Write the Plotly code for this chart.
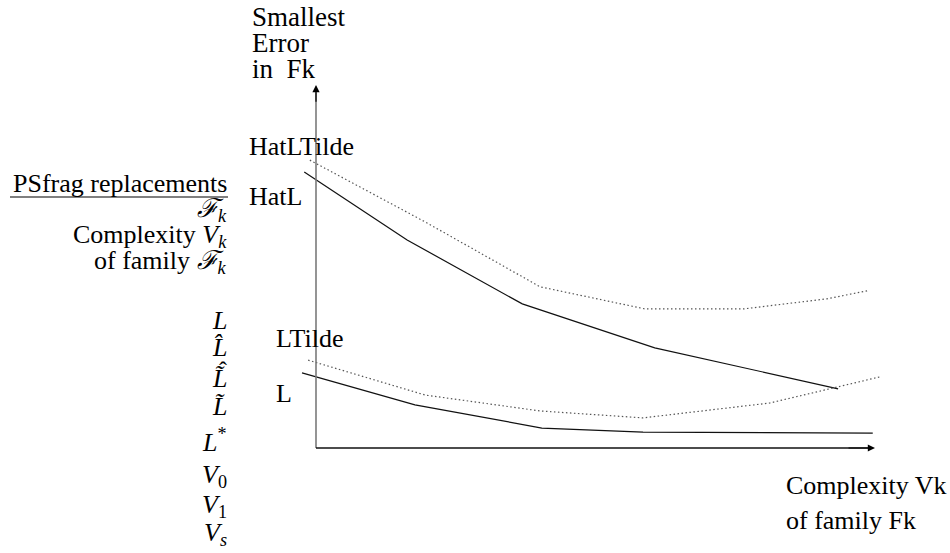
import plotly.graph_objects as go

# ---- data (conceptual units: complexity on x, error on y) ----
hatl_x = [-0.21, 1.63, 3.69, 6.06, 9.34]
hatl_y = [7.60, 5.73, 3.97, 2.76, 1.63]

hatltilde_x = [-0.11, 1.95, 4.01, 5.89, 7.64, 9.14, 9.86]
hatltilde_y = [7.93, 6.23, 4.44, 3.83, 3.83, 4.11, 4.33]

ltilde_x = [-0.14, 1.95, 4.01, 5.85, 8.12, 10.09]
ltilde_y = [2.42, 1.46, 1.02, 0.83, 1.24, 1.96]

l_x = [-0.25, 1.77, 4.04, 5.85, 9.96]
l_y = [2.07, 1.19, 0.55, 0.44, 0.41]

curve_labels = ["HatLTilde", "HatL", "LTilde", "L"]
axis_y_label = ["Smallest", "Error", "in  Fk"]
axis_x_label = ["Complexity Vk", "of family Fk"]
psfrag_items = [
    "<i>ℱ<sub>k</sub></i>",
    "Complexity <i>V<sub>k</sub></i>",
    "of family <i>ℱ<sub>k</sub></i>",
    "<i>L</i>",
    "<i>L\u0302</i>",
    "<i>L\u0303</i>",
    "<i>L\u0303</i>",
    "<i>L</i><sup>*</sup>",
    "<i>V</i><sub>0</sub>",
    "<i>V</i><sub>1</sub>",
    "<i>V<sub>s</sub></i>",
]

W, H = 950, 553
X_LEN, Y_LEN = 10.0, 10.0
ORIG_PX, ORIG_PY = 316, 448
END_PX, END_PY = 875, 85
sx = (END_PX - ORIG_PX) / X_LEN
sy = (ORIG_PY - END_PY) / Y_LEN
xr = [-ORIG_PX / sx, (W - ORIG_PX) / sx]
yr = [-(H - ORIG_PY) / sy, ORIG_PY / sy]

SERIF = "Liberation Serif, Times New Roman, serif"
FS = 26
DOT = "1.5px,2.5px"

fig = go.Figure()
fig.add_trace(go.Scatter(x=hatltilde_x, y=hatltilde_y, mode="lines",
                         line=dict(color="#555555", width=1.2, dash=DOT), hoverinfo="skip"))
fig.add_trace(go.Scatter(x=hatl_x, y=hatl_y, mode="lines",
                         line=dict(color="#111111", width=1.2), hoverinfo="skip"))
fig.add_trace(go.Scatter(x=ltilde_x, y=ltilde_y, mode="lines",
                         line=dict(color="#555555", width=1.2, dash=DOT), hoverinfo="skip"))
fig.add_trace(go.Scatter(x=l_x, y=l_y, mode="lines",
                         line=dict(color="#111111", width=1.2), hoverinfo="skip"))


def px(xp):
    return xp / W


def py(yp):
    return 1 - yp / H


shapes = [
    dict(type="line", xref="x", yref="y", x0=0, y0=0, x1=0, y1=Y_LEN * 0.98,
         line=dict(color="#7a7a7a", width=1.6)),
    dict(type="line", xref="x", yref="y", x0=0, y0=0, x1=X_LEN * 0.99, y1=0,
         line=dict(color="#111111", width=1.4)),
    dict(type="line", xref="paper", yref="paper", x0=px(10), y0=py(197), x1=px(228), y1=py(197),
         line=dict(color="#555555", width=1.6)),
]

ann = []
ann.append(dict(x=0, y=Y_LEN, ax=0, ay=Y_LEN * 0.95, xref="x", yref="y", axref="x", ayref="y",
                showarrow=True, arrowhead=2, arrowsize=1.2, arrowwidth=1.2, arrowcolor="#000", text=""))
ann.append(dict(x=X_LEN, y=0, ax=X_LEN * 0.95, ay=0, xref="x", yref="y", axref="x", ayref="y",
                showarrow=True, arrowhead=2, arrowsize=1.2, arrowwidth=1.2, arrowcolor="#000", text=""))


def txt(x, y, t, anchor="left", size=FS):
    ann.append(dict(x=px(x), y=py(y), xref="paper", yref="paper", text=t,
                    showarrow=False, xanchor=anchor, yanchor="middle",
                    font=dict(family=SERIF, size=size, color="#000")))


for i, t in enumerate(axis_y_label):
    txt(250, 17 + 26 * i, t, size=27)
for i, t in enumerate(axis_x_label):
    txt(784, 485 + 35 * i, t)
label_pos = [(247, 147), (247, 197), (274, 338), (274, 393)]
for t, (lx, ly) in zip(curve_labels, label_pos):
    txt(lx, ly, t)

txt(229, 183, "PSfrag replacements", anchor="right")
ys = [210, 236, 262, 320, 347, 378, 406, 440, 476, 506, 534]
for t, yy in zip(psfrag_items, ys):
    txt(229, yy, t, anchor="right")
# hat stacked over the tilde of the hat-tilde L
txt(223, 378 - 8, "\u02c6", anchor="center", size=24)

fig.update_layout(
    width=W, height=H, margin=dict(l=0, r=0, t=0, b=0),
    paper_bgcolor="white", plot_bgcolor="white", showlegend=False,
    xaxis=dict(range=xr, visible=False, fixedrange=True),
    yaxis=dict(range=yr, visible=False, fixedrange=True),
    shapes=shapes, annotations=ann,
)
fig.write_html("out.html", config={"displayModeBar": False},
               post_script="document.body.style.margin='0';")
